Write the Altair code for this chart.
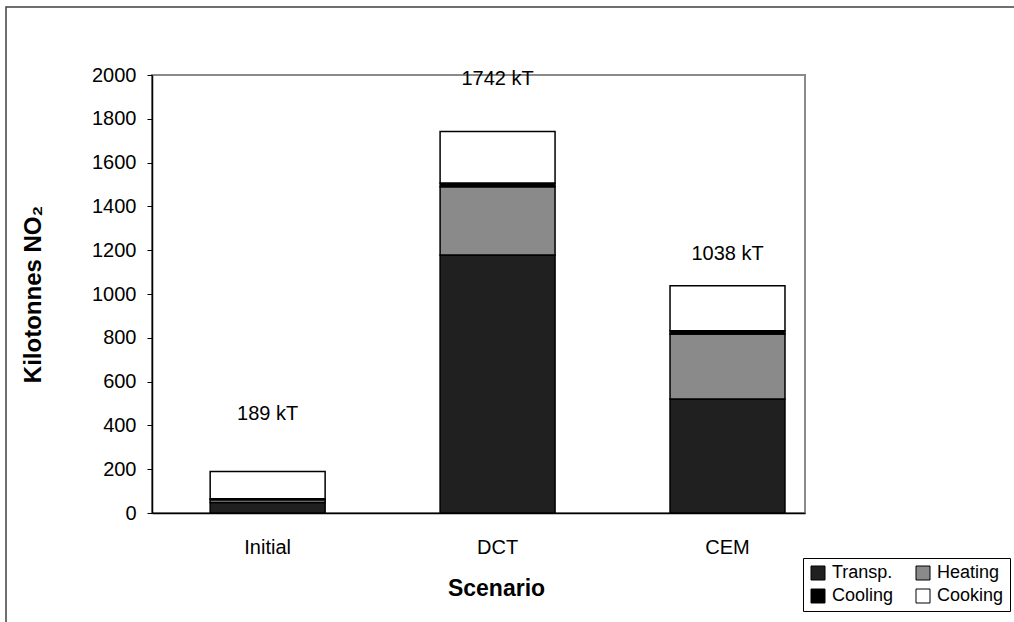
import altair as alt
import pandas as pd

# Emissions by scenario, split by end use (kilotonnes)
scenarios = ["Initial", "DCT", "CEM"]
transp = [48, 1178, 520]
heating = [12, 312, 297]
cooling = [5, 17, 15]
cooking = [124, 235, 206]

uses = ["Transp.", "Heating", "Cooling", "Cooking"]
use_colors = ["#202020", "#8a8a8a", "#000000", "#ffffff"]

totals = [a + b + c + d for a, b, c, d in zip(transp, heating, cooling, cooking)]
total_labels = [f"{t} kT" for t in totals]
label_anchor = [452, 1982, 1183]

FONT = "Liberation Sans"

rows = []
for i, s in enumerate(scenarios):
    for k, (use, vals) in enumerate(zip(uses, [transp, heating, cooling, cooking])):
        rows.append({"Scenario": s, "Use": use, "kT": vals[i], "ord": k})
df = pd.DataFrame(rows)

lab = pd.DataFrame({"Scenario": scenarios, "pos": label_anchor, "txt": total_labels})

x_scale = alt.Scale(paddingInner=0.5, paddingOuter=0.17, align=0.744)

x_enc = alt.X(
    "Scenario:N",
    sort=scenarios,
    scale=x_scale,
    axis=alt.Axis(
        title="Scenario",
        labelAngle=0,
        ticks=False,
        labelPadding=24,
        labelFontSize=20,
        titleFontSize=23,
        titleFontWeight="bold",
        titleX=344,
        titleY=75,
        titleAlign="center",
        titleBaseline="middle",
        domainColor="#000000",
        domainWidth=1.5,
    ),
)

bars = alt.Chart(df).mark_bar(stroke="#000000", strokeWidth=1.5).encode(
    x=x_enc,
    y=alt.Y(
        "kT:Q",
        stack="zero",
        scale=alt.Scale(domain=[0, 2000]),
        axis=alt.Axis(
            title="Kilotonnes NO₂",
            values=list(range(0, 2001, 200)),
            format="d",
            grid=False,
            tickSize=5,
            tickColor="#000000",
            labelPadding=11,
            labelFontSize=20,
            titleFontSize=24,
            titleFontWeight="bold",
            titleAngle=270,
            titleX=-119,
            titleY=219,
            titleAlign="center",
            titleBaseline="middle",
            domainColor="#000000",
            domainWidth=1.5,
        ),
    ),
    color=alt.Color(
        "Use:N",
        scale=alt.Scale(domain=uses, range=use_colors),
        legend=alt.Legend(
            title=None,
            orient="none",
            legendX=651,
            legendY=483,
            direction="horizontal",
            columns=2,
            symbolType="square",
            symbolSize=196,
            symbolStrokeColor="#000000",
            symbolStrokeWidth=1,
            labelFontSize=18,
            labelFont=FONT,
            labelColor="#000000",
            labelOffset=5,
            columnPadding=20,
            rowPadding=5,
            padding=6,
            strokeColor="#000000",
            fillColor="#ffffff",
        ),
    ),
    order=alt.Order("ord:Q", sort="ascending"),
)

labels = alt.Chart(lab).mark_text(fontSize=20, font=FONT, color="#000000", baseline="middle").encode(
    x=alt.X("Scenario:N", sort=scenarios, scale=x_scale),
    y=alt.Y("pos:Q"),
    text="txt:N",
)

frame = alt.Chart(pd.DataFrame({"f": [0]})).mark_rect(
    fillOpacity=0, stroke="#404040", strokeWidth=1.5
).encode(
    x=alt.value(-146), x2=alt.value(900), y=alt.value(-68), y2=alt.value(600)
)

chart = (
    alt.layer(frame, bars, labels)
    .properties(
        width=653,
        height=438,
        autosize=alt.AutoSizeParams(type="none"),
        padding={"left": 152, "top": 75, "right": 209, "bottom": 109},
        background="#ffffff",
    )
    .configure_view(stroke="#8a8a8a", strokeWidth=2)
    .configure_axis(labelFont=FONT, titleFont=FONT, labelColor="#000000", titleColor="#000000")
)

chart.save("out.html", embed_options={"renderer": "svg", "actions": False})
